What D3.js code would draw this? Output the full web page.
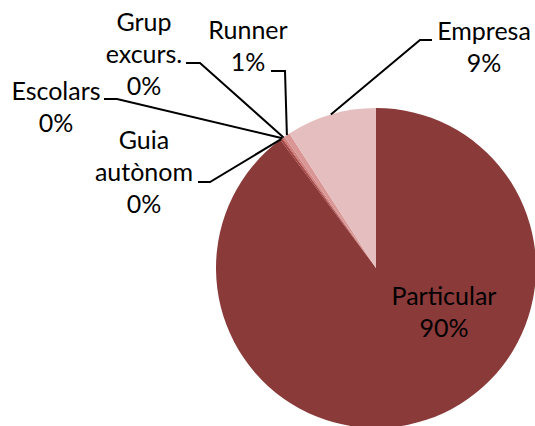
<!DOCTYPE html>
<html>
<head>
<meta charset="utf-8">
<script src="https://cdn.jsdelivr.net/npm/d3@7"></script>
<style>
  body { margin: 0; background: #fff; }
  text { font-family: Lato, "Open Sans", sans-serif; font-size: 25px; fill: #000; }
</style>
</head>
<body>
<div id="chart"></div>
<script>
// data
var categories = ["Particular", "Guia autònom", "Escolars", "Grup excurs.", "Runner", "Empresa"];
var values = [89.8, 0.2, 0.1, 0.2, 0.6, 9.1];
var colors = ["#8B3A3A", "#A0413F", "#B9514F", "#CD7C7A", "#D99694", "#E5BFBF"];
// label text lines (name split as in the picture)
var labelLines = [["Particular"], ["Guia", "autònom"], ["Escolars"], ["Grup", "excurs."], ["Runner"], ["Empresa"]];

var width = 535, height = 426;
var cx = 376, cy = 268, radius = 160;

var svg = d3.select("#chart").append("svg")
    .attr("width", width)
    .attr("height", height);

var data = categories.map(function (c, i) {
    return { name: c, value: values[i], color: colors[i], lines: labelLines[i] };
});

var pie = d3.pie().sort(null).value(function (d) { return d.value; });
var arcs = pie(data);
var arc = d3.arc().innerRadius(0).outerRadius(radius);

var g = svg.append("g").attr("transform", "translate(" + cx + "," + cy + ")");

g.selectAll("path.slice")
    .data(arcs)
    .enter().append("path")
    .attr("class", "slice")
    .attr("d", arc)
    .attr("fill", function (d) { return d.data.color; });

var pct = function (v) { return Math.round(v) + "%"; };

// label placement (absolute page coords): text centre x, first baseline y, elbow point, line end
var labelPos = {
    "Particular":   { x: 444, y: 305, inside: true },
    "Guia autònom": { x: 144, y: 149, elbow: [210, 182], end: [198, 182] },
    "Escolars":     { x: 56,  y: 100, elbow: [117, 99],  end: [104, 99] },
    "Grup excurs.": { x: 144, y: 31,  elbow: [200, 63],  end: [186, 63] },
    "Runner":       { x: 248, y: 39,  elbow: [285, 71],  end: [271, 71] },
    "Empresa":      { x: 484, y: 40,  elbow: [420, 40],  end: [432, 40] }
};

var lineH = 32;

arcs.forEach(function (a) {
    var p = labelPos[a.data.name];
    var lines = a.data.lines.concat([pct(a.data.value)]);
    var t = svg.append("text").attr("text-anchor", "middle");
    lines.forEach(function (s, i) {
        t.append("tspan")
            .attr("x", p.x)
            .attr("y", p.y + i * lineH)
            .text(s);
    });
    if (p.inside) return;
    var mid = (a.startAngle + a.endAngle) / 2;
    var sx = cx + radius * Math.sin(mid);
    var sy = cy - radius * Math.cos(mid);
    svg.append("polyline")
        .attr("points", [[sx, sy], p.elbow, p.end].map(function (q) { return q.join(","); }).join(" "))
        .attr("fill", "none")
        .attr("stroke", "#000")
        .attr("stroke-width", 2);
});
</script>
</body>
</html>
